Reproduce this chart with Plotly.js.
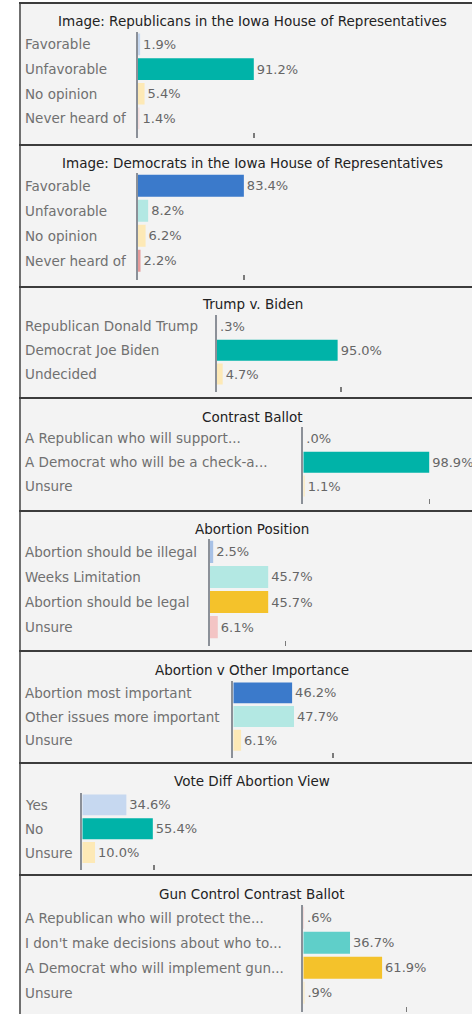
<!DOCTYPE html>
<html>
<head>
<meta charset="utf-8">
<script src="https://cdn.plot.ly/plotly-3.0.1.min.js"></script>
<style>
  html, body { margin: 0; padding: 0; background: #ffffff; }
  #chart { width: 472px; height: 1014px; }
</style>
</head>
<body>
<div id="chart"></div>
<script>
// ---------------- DATA ----------------
const titles = [
  'Image: Republicans in the Iowa House of Representatives',
  'Image: Democrats in the Iowa House of Representatives',
  'Trump v. Biden',
  'Contrast Ballot',
  'Abortion Position',
  'Abortion v Other Importance',
  'Vote Diff Abortion View',
  'Gun Control Contrast Ballot'
];

const cats1 = ['Favorable', 'Unfavorable', 'No opinion', 'Never heard of'];
const vals1 = [1.9, 91.2, 5.4, 1.4];

const cats2 = ['Favorable', 'Unfavorable', 'No opinion', 'Never heard of'];
const vals2 = [83.4, 8.2, 6.2, 2.2];

const cats3 = ['Republican Donald Trump', 'Democrat Joe Biden', 'Undecided'];
const vals3 = [0.3, 95.0, 4.7];

const cats4 = ['A Republican who will support...', 'A Democrat who will be a check-a...', 'Unsure'];
const vals4 = [0.0, 98.9, 1.1];

const cats5 = ['Abortion should be illegal', 'Weeks Limitation', 'Abortion should be legal', 'Unsure'];
const vals5 = [2.5, 45.7, 45.7, 6.1];

const cats6 = ['Abortion most important', 'Other issues more important', 'Unsure'];
const vals6 = [46.2, 47.7, 6.1];

const cats7 = ['Yes', 'No', 'Unsure'];
const vals7 = [34.6, 55.4, 10.0];

const cats8 = ['A Republican who will protect the...', "I don't make decisions about who to...", 'A Democrat who will implement gun...', 'Unsure'];
const vals8 = [0.6, 36.7, 61.9, 0.9];

// single axis tick mark shown at the bottom of each panel (value in %)
const tickMarks = [91.2, 83.4, 97.7, 99.0, 59.4, 78.4, 56.3, 80.9];

// ---------------- STYLE ----------------
const C = {
  teal: '#00b3a8', blue: '#3b7acb', lightTeal: '#b3e8e3', lightYellow: '#fde9b6',
  gold: '#f4c22b', pink: '#f3c4c4', faintPink: '#f4dede', red: '#e59a9a', lightBlue: '#c6d8f0', midBlue: '#a7c1e6', medTeal: '#5fcfc9'
};
const colors = [
  [C.lightBlue, C.teal, C.lightYellow, C.faintPink],
  [C.blue, C.lightTeal, C.lightYellow, C.red],
  [C.pink, C.teal, C.lightYellow],
  [C.pink, C.teal, C.lightYellow],
  [C.midBlue, C.lightTeal, C.gold, C.pink],
  [C.blue, C.lightTeal, C.lightYellow],
  [C.lightBlue, C.teal, C.lightYellow],
  [C.pink, C.medTeal, C.gold, C.lightYellow]
];

// panel geometry in pixels
const geo = [
  {sep: 3,   titleY: 20.7,  top: 32.0,  step: 24.7, bottom: 138.3, ax: 137.7},
  {sep: 145, titleY: 163.3, top: 173.3, step: 25.0, bottom: 280.0, ax: 137.7},
  {sep: 287, titleY: 304.3, top: 314.5, step: 23.8, bottom: 392.3, ax: 216.7},
  {sep: 398, titleY: 416.7, top: 426.5, step: 23.8, bottom: 504.3, ax: 303.3},
  {sep: 511, titleY: 529.0, top: 539.3, step: 25.1, bottom: 646.0, ax: 210.0},
  {sep: 651, titleY: 670.0, top: 681.0, step: 23.7, bottom: 758.3, ax: 233.3},
  {sep: 763, titleY: 780.7, top: 793.0, step: 23.8, bottom: 870.0, ax: 82.3},
  {sep: 875, titleY: 894.0, top: 905.2, step: 25.0, bottom: 1012.0, ax: 303.3}
];

const W = 472, H = 1014, PXPCT = 1.273;
const FONT = 'DejaVu Sans, Verdana, sans-serif';
const px = v => v / W;
const py = v => 1 - v / H;
const fmt = v => v.toFixed(1).replace(/^0\./, '.') + '%';

const allCats = [cats1, cats2, cats3, cats4, cats5, cats6, cats7, cats8];
const allVals = [vals1, vals2, vals3, vals4, vals5, vals6, vals7, vals8];

const data = [];
const layout = {
  width: W, height: H,
  margin: {l: 0, r: 0, t: 0, b: 0},
  paper_bgcolor: '#ffffff',
  plot_bgcolor: 'rgba(0,0,0,0)',
  showlegend: false,
  bargap: 0.12,
  font: {family: FONT, size: 13, color: '#666666'},
  shapes: [],
  annotations: []
};

// background + frame
layout.shapes.push({type: 'rect', xref: 'paper', yref: 'paper', layer: 'below',
  x0: px(20), x1: 1.05, y0: py(H + 5), y1: py(3),
  fillcolor: '#f3f3f3', line: {width: 0}});
layout.shapes.push({type: 'line', xref: 'paper', yref: 'paper', layer: 'below',
  x0: px(20), x1: px(20), y0: py(H + 5), y1: py(2),
  line: {color: '#6f6f6f', width: 2}});

allCats.forEach((cats, i) => {
  const k = i + 1;
  const xa = k === 1 ? 'xaxis' : 'xaxis' + k;
  const ya = k === 1 ? 'yaxis' : 'yaxis' + k;
  const xr = k === 1 ? 'x' : 'x' + k;
  const yr = k === 1 ? 'y' : 'y' + k;
  const g = geo[i];
  const n = cats.length;
  const pad = (g.bottom - g.top - n * g.step) / g.step;

  data.push({
    type: 'bar', orientation: 'h',
    x: allVals[i], y: cats,
    xaxis: xr, yaxis: yr,
    marker: {color: colors[i], line: {width: 0}},
    text: allVals[i].map(fmt),
    textposition: 'outside',
    cliponaxis: false,
    constraintext: 'none',
    textfont: {family: FONT, size: 13, color: '#666666'},
    hoverinfo: 'none'
  });

  layout[xa] = {
    domain: [px(g.ax), 1],
    range: [0, (W - g.ax) / PXPCT],
    anchor: yr,
    showgrid: false, zeroline: false, showline: false,
    showticklabels: false,
    tickmode: 'array', tickvals: [tickMarks[i]],
    ticks: 'inside', ticklen: 5, tickwidth: 1.5, tickcolor: '#7a7a7a',
    fixedrange: true
  };
  layout[ya] = {
    domain: [py(g.bottom), py(g.top)],
    type: 'category',
    categoryorder: 'array', categoryarray: cats,
    range: [n - 0.5 + pad, -0.5],
    autorange: false,
    anchor: xr,
    showgrid: false, zeroline: false,
    showline: true, linecolor: '#8b9098', linewidth: 2,
    showticklabels: false, ticks: '',
    fixedrange: true
  };

  // category labels, left-aligned
  cats.forEach(c => {
    layout.annotations.push({
      xref: 'paper', yref: yr, x: px(23), y: c,
      xanchor: 'left', yanchor: 'middle', showarrow: false,
      text: c, font: {family: FONT, size: 13.5, color: '#707070'}
    });
  });

  // panel title
  layout.annotations.push({
    xref: 'paper', yref: 'paper', x: px(252), y: py(g.titleY),
    xanchor: 'center', yanchor: 'middle', showarrow: false,
    text: titles[i], font: {family: FONT, size: 13.5, color: '#222222'}
  });

  // separator line at top of panel
  layout.shapes.push({type: 'line', xref: 'paper', yref: 'paper', layer: 'below',
    x0: px(19), x1: 1.05, y0: py(g.sep), y1: py(g.sep),
    line: {color: '#3c3c3c', width: 2}});
});

Plotly.newPlot('chart', data, layout, {displayModeBar: false, staticPlot: true});
</script>
</body>
</html>
